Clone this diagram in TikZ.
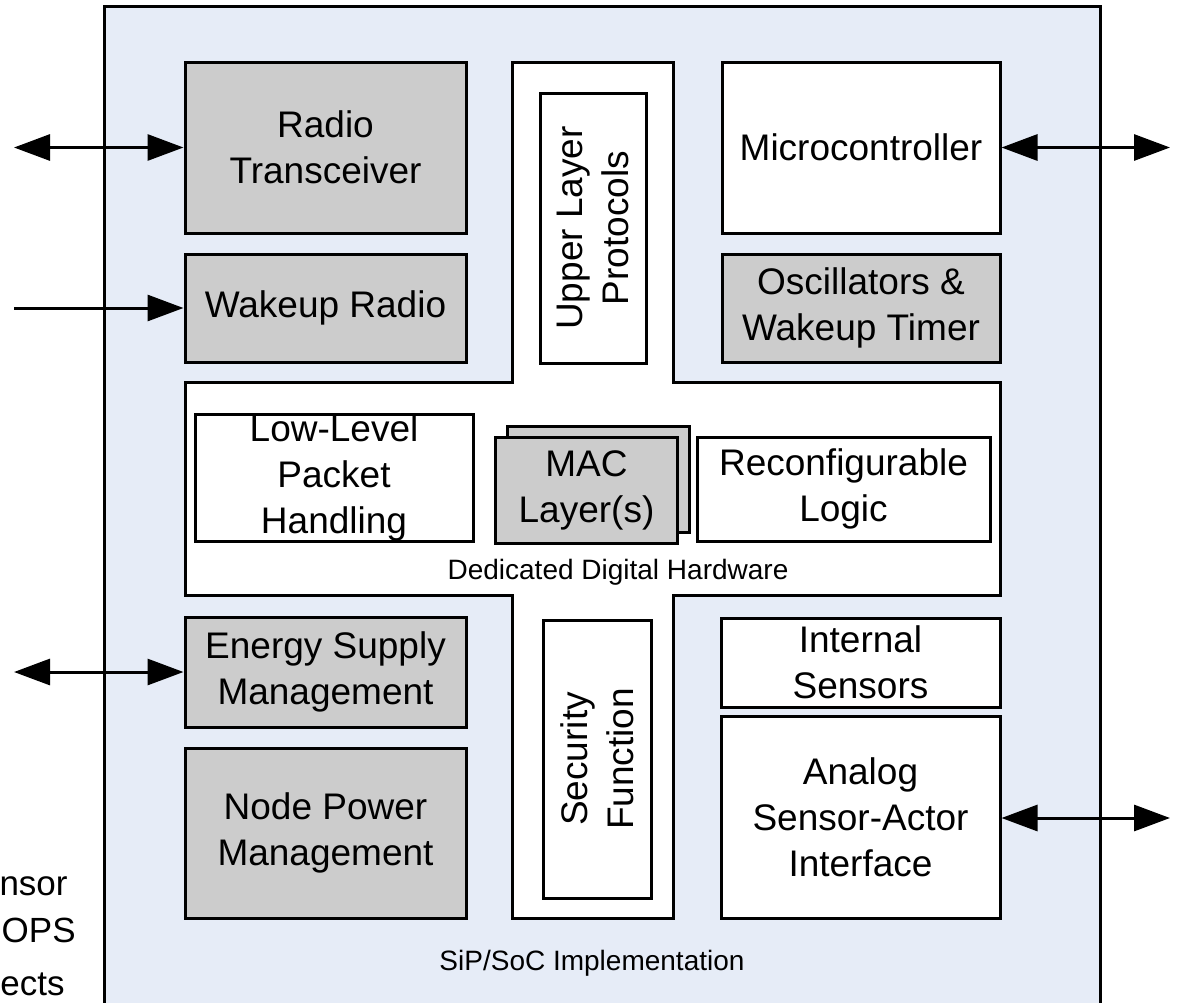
\documentclass[tikz,border=0pt]{standalone}
\usepackage{fontspec}
\setmainfont{Liberation Sans}
\usetikzlibrary{arrows.meta}

\begin{document}
\begin{tikzpicture}[x=0.5pt, y=-0.5pt, >={Triangle[length=18pt,width=13pt]},
    box/.style={draw, line width=1.5pt, fill=white, align=center, inner sep=0pt,
      font=\fontsize{18.5}{23}\selectfont},
    greybox/.style={box, fill=boxgrey},
    small/.style={font=\fontsize{14}{16}\selectfont},
    link/.style={line width=1.5pt}]
    \definecolor{boxgrey}{RGB}{204,204,204}
    \definecolor{chipblue}{RGB}{230,236,247}

    \useasboundingbox (0,0) rectangle (1178,1002);

    % chip outline (runs off the bottom edge)
    \draw[line width=1.5pt, fill=chipblue] (104,6) rectangle (1100,1040);

    % white cross: upper/lower arms and the digital hardware band
    \draw[line width=1.5pt, fill=white] (512,62) -- (673,62) -- (673,382) -- (1000,382)
      -- (1000,595) -- (673,595) -- (673,918) -- (512,918) -- (512,595) -- (185,595)
      -- (185,382) -- (512,382) -- cycle;

    % left column
    \node[greybox, minimum width=140.5pt, minimum height=85.5pt] (radio) at (325.5,147.5) {Radio\\Transceiver};
    \node[greybox, minimum width=140.5pt, minimum height=54pt] (wakeup) at (325.5,308) {Wakeup Radio};
    \node[greybox, minimum width=140.5pt, minimum height=55pt] (energy) at (325.5,672) {Energy Supply\\Management};
    \node[greybox, minimum width=140.5pt, minimum height=85pt] (power) at (325.5,833) {Node Power\\Management};

    % right column
    \node[box, minimum width=139pt, minimum height=85.5pt] (micro) at (861,147.5) {Microcontroller};
    \node[greybox, minimum width=139pt, minimum height=54pt] (osc) at (861,308) {Oscillators \&\\Wakeup Timer};
    \node[box, minimum width=139.5pt, minimum height=44.5pt] (sensors) at (860.5,662.5) {Internal\\Sensors};
    \node[box, minimum width=139.5pt, minimum height=101pt] (analog) at (860.5,817) {Analog\\Sensor-Actor\\Interface};

    % middle arms, text turned upright
    \node[box, rotate=90, minimum width=135pt, minimum height=53pt] (upper) at (593,228) {Upper Layer\\Protocols};
    \node[box, rotate=90, minimum width=139pt, minimum height=54pt] (security) at (597,759) {Security\\Function};

    % dedicated digital hardware band
    \node[box, minimum width=139pt, minimum height=63pt] (packet) at (334,478) {Low-Level\\Packet\\Handling};
    \node[greybox, minimum width=91pt, minimum height=53pt] (macback) at (598,479) {};
    \node[greybox, minimum width=91pt, minimum height=53pt] (mac) at (586.5,490) {MAC\\Layer(s)};
    \node[box, minimum width=146.5pt, minimum height=52pt] (reconf) at (843.5,489) {Reconfigurable\\Logic};
    \node[small] (ddh) at (618,572) {Dedicated Digital Hardware};
    \node[small] (sip) at (592,963) {SiP/SoC Implementation};

    % text left of the chip
    \node[anchor=base east, font=\fontsize{17.5}{20}\selectfont, inner sep=0pt] (cut1) at (68,895) {nsor};
    \node[anchor=base east, font=\fontsize{17.5}{20}\selectfont, inner sep=0pt] (cut2) at (76,942) {OPS};
    \node[anchor=base east, font=\fontsize{17.5}{20}\selectfont, inner sep=0pt] (cut3) at (65,995) {ects};

    % outside connections
    \coordinate (radioout) at (14,147.5);
    \coordinate (wakeupout) at (14,308);
    \coordinate (energyout) at (14,672);
    \coordinate (microout) at (1170,147.5);
    \coordinate (analogout) at (1170,818);
    \draw[link, <->] (radioout) -- (radio.west);
    \draw[link, ->] (wakeupout) -- (wakeup.west);
    \draw[link, <->] (energyout) -- (energy.west);
    \draw[link, <->] (micro.east) -- (microout);
    \draw[link, <->] (analog.east |- analogout) -- (analogout);
  \end{tikzpicture}
\end{document}
